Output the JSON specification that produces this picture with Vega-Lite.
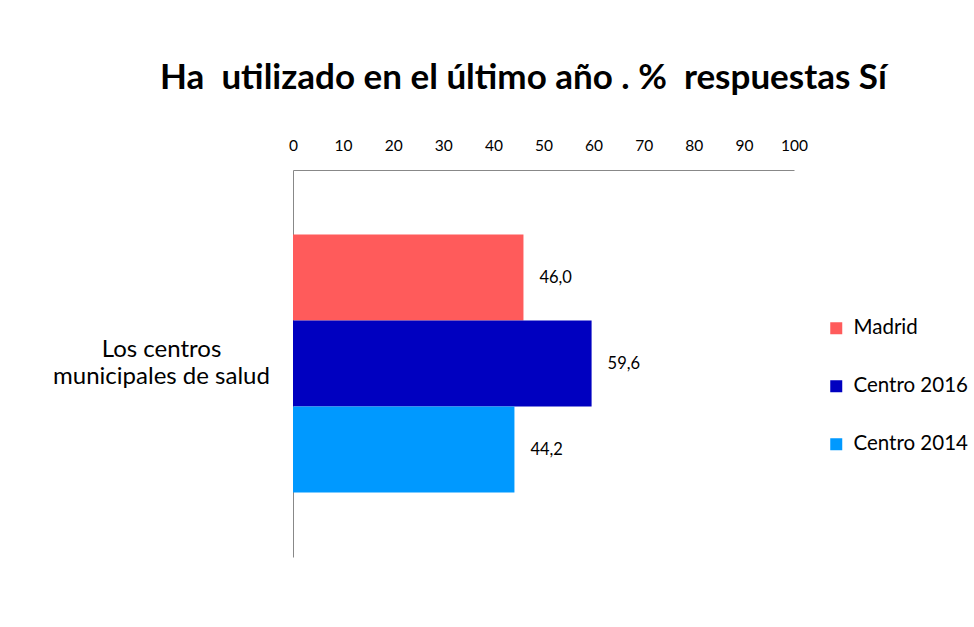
{
  "$schema": "https://vega.github.io/schema/vega-lite/v6.json",
  "autosize": "none",
  "width": 501,
  "height": 387,
  "padding": {"left": 293, "top": 170, "right": 180, "bottom": 70},
  "background": "white",
  "config": {
    "font": "Lato",
    "view": {"stroke": null},
    "locale": {"number": {"decimal": ",", "thousands": ".", "grouping": [3], "currency": ["", " €"]}}
  },
  "title": {
    "text": "Ha\u00a0 utilizado en el último año . %\u00a0 respuestas Sí",
    "font": "Lato",
    "fontSize": 35,
    "fontWeight": "bold",
    "color": "#000000",
    "anchor": "middle",
    "frame": "group",
    "dx": -20,
    "offset": 42
  },
  "data": {
    "values": [
      {"categoria": "Los centros|municipales de salud", "serie": "Madrid", "valor": 46.0},
      {"categoria": "Los centros|municipales de salud", "serie": "Centro 2016", "valor": 59.6},
      {"categoria": "Los centros|municipales de salud", "serie": "Centro 2014", "valor": 44.2}
    ]
  },
  "encoding": {
    "y": {
      "field": "categoria",
      "type": "nominal",
      "scale": {"paddingInner": 0, "paddingOuter": 0.25},
      "axis": {
        "title": null,
        "ticks": false,
        "domainColor": "#888888",
        "domainWidth": 1,
        "labelFontSize": 24,
        "labelFont": "Lato",
        "labelColor": "#000000",
        "labelAlign": "center",
        "labelPadding": 132,
        "labelLineHeight": 27,
        "labelOffset": -14,
        "labelLimit": 400,
        "labelExpr": "split(datum.label, '|')"
      }
    },
    "yOffset": {
      "field": "serie",
      "type": "nominal",
      "sort": ["Madrid", "Centro 2016", "Centro 2014"],
      "scale": {"paddingInner": 0, "paddingOuter": 0}
    },
    "x": {
      "field": "valor",
      "type": "quantitative",
      "scale": {"domain": [0, 100], "nice": false},
      "axis": {
        "orient": "top",
        "title": null,
        "values": [0, 10, 20, 30, 40, 50, 60, 70, 80, 90, 100],
        "ticks": false,
        "grid": false,
        "domainColor": "#888888",
        "labelFontSize": 15.5,
        "labelColor": "#000000",
        "labelPadding": 17,
        "labelFlush": false
      }
    }
  },
  "layer": [
    {
      "mark": {"type": "bar"},
      "encoding": {
        "color": {
          "field": "serie",
          "type": "nominal",
          "sort": ["Madrid", "Centro 2016", "Centro 2014"],
          "scale": {"domain": ["Madrid", "Centro 2016", "Centro 2014"], "range": ["#FF5B5B", "#0000C0", "#0099FF"]},
          "legend": {
            "title": null,
            "orient": "none",
            "legendX": 533,
            "legendY": 148,
            "symbolType": "square",
            "symbolSize": 144,
            "symbolStrokeWidth": 0,
            "labelFontSize": 20.5,
            "labelColor": "#000000",
            "labelOffset": 7,
            "rowPadding": 37
          }
        }
      }
    },
    {
      "mark": {"type": "text", "align": "left", "dx": 16, "fontSize": 16.5, "color": "#000000"},
      "encoding": {
        "text": {"field": "valor", "type": "quantitative", "format": ".1f"}
      }
    }
  ]
}
